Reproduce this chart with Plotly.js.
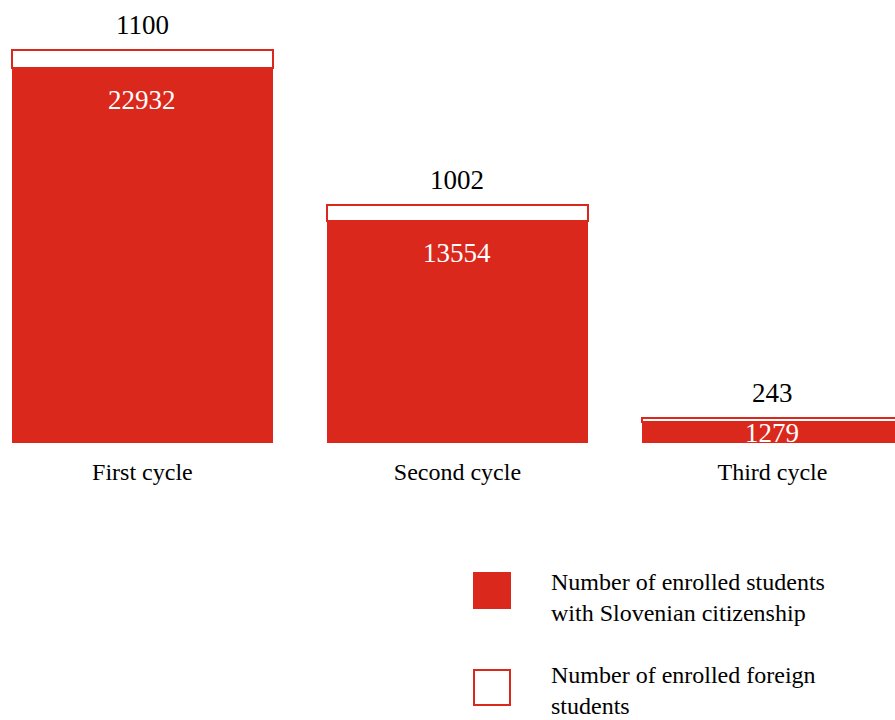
<!DOCTYPE html>
<html>
<head>
<meta charset="utf-8">
<script src="https://cdn.plot.ly/plotly-3.0.1.min.js"></script>
<style>html,body{margin:0;padding:0;background:#fff;}#chart{width:895px;height:720px;}</style>
</head>
<body>
<div id="chart"></div>
<script>
const categories = ["First cycle", "Second cycle", "Third cycle"];
const slovenian = [22932, 13554, 1279];
const foreign = [1100, 1002, 243];
const legendLabels = ["Number of enrolled students<br>with Slovenian citizenship", "Number of enrolled foreign<br>students"];

const RED = "#db281d";
const FONT = "Liberation Serif, Times New Roman, serif";
const totals = slovenian.map((v, i) => v + foreign[i]);

const PLOT_H = 443;
const Y_MAX = 27090;
const pxPerUnit = PLOT_H / Y_MAX;

const traces = [
  {
    type: "bar", x: categories, y: slovenian, name: "Slovenian",
    marker: { color: RED, line: { width: 0 } },
    textposition: "none",
    hoverinfo: "skip"
  },
  {
    type: "bar", x: categories, y: foreign, name: "Foreign",
    marker: { color: "#ffffff", line: { width: 2, color: RED } },
    textposition: "none",
    hoverinfo: "skip"
  }
];

const annotations = [];
categories.forEach((c, i) => {
  annotations.push({
    x: c, y: totals[i], xref: "x", yref: "y", text: String(foreign[i]),
    showarrow: false, yanchor: "bottom", yshift: 8,
    font: { family: FONT, size: 27, color: "#000" }
  });
  annotations.push({
    x: c, y: slovenian[i], xref: "x", yref: "y", text: String(slovenian[i]),
    showarrow: false, yanchor: "middle", yshift: -Math.min(32, slovenian[i] * pxPerUnit / 2),
    font: { family: FONT, size: 27, color: "#ffffff" }
  });
});

annotations.push(
  { xref: "paper", yref: "paper", x: 549/895, y: (PLOT_H-597)/PLOT_H, xanchor: "left", yanchor: "middle", align: "left",
    text: legendLabels[0], showarrow: false, font: { family: FONT, size: 24, color: "#000" } },
  { xref: "paper", yref: "paper", x: 549/895, y: (PLOT_H-690)/PLOT_H, xanchor: "left", yanchor: "middle", align: "left",
    text: legendLabels[1], showarrow: false, font: { family: FONT, size: 24, color: "#000" } }
);

const shapes = [
  { type: "rect", xref: "paper", yref: "paper", x0: 473/895, x1: 511/895, y0: (PLOT_H-609)/PLOT_H, y1: (PLOT_H-572)/PLOT_H,
    fillcolor: RED, line: { width: 0 } },
  { type: "rect", xref: "paper", yref: "paper", x0: 474/895, x1: 510/895, y0: (PLOT_H-705)/PLOT_H, y1: (PLOT_H-670)/PLOT_H,
    fillcolor: "#ffffff", line: { width: 2, color: RED } }
];

const layout = {
  width: 895, height: 720,
  margin: { l: 0, r: 0, t: 0, b: 720 - PLOT_H },
  barmode: "stack", bargap: 0.171,
  showlegend: false,
  paper_bgcolor: "#fff", plot_bgcolor: "#fff",
  xaxis: { type: "category", range: [-0.452, 2.389], showgrid: false, zeroline: false, showline: false,
    ticks: "", ticklabelstandoff: 12, tickfont: { family: FONT, size: 24, color: "#000" }, fixedrange: true },
  yaxis: { range: [0, Y_MAX], visible: false, showgrid: false, zeroline: false, fixedrange: true },
  annotations: annotations,
  shapes: shapes
};

Plotly.newPlot("chart", traces, layout, { displayModeBar: false, staticPlot: true });
</script>
</body>
</html>
